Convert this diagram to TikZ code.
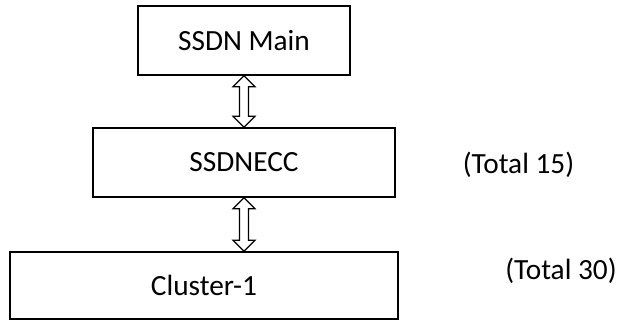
\documentclass[tikz,border=0pt]{standalone}
\usepackage{fontspec}
\setmainfont{Carlito}
\usetikzlibrary{calc}
\begin{document}
\begin{tikzpicture}[x=1pt,y=-1pt,
  box/.style={draw=black,line width=1.6pt,fill=white,inner sep=0pt,font=\fontsize{29.3}{33}\selectfont},
  lbl/.style={inner sep=0pt,font=\fontsize{29.3}{33}\selectfont},
  dblarrow/.style={draw=black,line width=1.2pt,fill=white,line join=miter}]
\useasboundingbox (0,0) rectangle (619,320);
\node[box,minimum width=212pt,minimum height=69pt] (b1) at (244,40.5) {SSDN Main};
\node[box,minimum width=302pt,minimum height=69pt] (b2) at (244,162.5) {SSDNECC};
\node[box,minimum width=388pt,minimum height=67pt] (b3) at (204,285.5) {Cluster-1};
\node[lbl] (t15) at (518.5,165) {(Total 15)};
\node[lbl] (t30) at (561,271) {(Total 30)};
\draw[dblarrow] (b1.south) -- ++(-11,11) -- ++(6.5,0) -- ($(b2.north)+(-4.5,-11)$) -- ++(-6.5,0) -- (b2.north) -- ++(11,-11) -- ++(-6.5,0) -- ($(b1.south)+(4.5,11)$) -- ++(6.5,0) -- cycle;
\draw[dblarrow] (b2.south) -- ++(-11,11) -- ++(6.5,0) -- ($(b2.south|-b3.north)+(-4.5,-11)$) -- ++(-6.5,0) -- (b2.south|-b3.north) -- ++(11,-11) -- ++(-6.5,0) -- ($(b2.south)+(4.5,11)$) -- ++(6.5,0) -- cycle;
\end{tikzpicture}
\end{document}
